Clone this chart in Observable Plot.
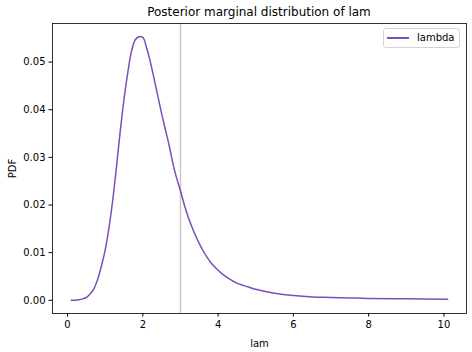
<!DOCTYPE html>
<html>
<head>
<meta charset="utf-8">
<script src="https://cdn.jsdelivr.net/npm/d3@7"></script>
<script src="https://cdn.jsdelivr.net/npm/@observablehq/plot@0.6"></script>
<style>
  html, body { margin: 0; padding: 0; background: white; }
  #wrap { position: relative; width: 472px; height: 352px; font-family: "DejaVu Sans", sans-serif; }
  #title { position: absolute; left: 52px; top: 0; width: 414px; height: 20px; padding-top: 4px; box-sizing: border-box; line-height: 16px; font-size: 12px; text-align: center; color: black; }
  #chart { position: absolute; left: 0; top: 20px; }
  #legend { position: absolute; left: 383px; top: 28px; width: 77px; height: 20px; box-sizing: border-box; border: 1px solid #d4d4d4; border-radius: 3px; background: rgba(255,255,255,0.8); font-size: 10px; }
  #legend .swatch { position: absolute; left: 3px; top: 8px; width: 22px; height: 1.5px; }
  #legend .lbl { position: absolute; left: 33px; top: 0; line-height: 18px; color: black; }
</style>
</head>
<body>
<div id="wrap">
  <div id="title">Posterior marginal distribution of lam</div>
  <div id="chart"></div>
  <div id="legend"><div class="swatch"></div><div class="lbl"></div></div>
</div>
<script>
// Data
const lamValues = [0.1,0.2,0.3,0.4,0.5,0.6,0.7,0.8,0.9,1.0,1.1,1.2,1.3,1.4,1.5,1.6,1.7,1.8,1.9,2.0,2.1,2.2,2.3,2.4,2.5,2.6,2.7,2.8,2.9,3.0,3.1,3.2,3.3,3.4,3.5,3.6,3.7,3.8,3.9,4.0,4.1,4.2,4.3,4.4,4.5,4.6,4.8,5.0,5.5,6.0,6.5,7.0,7.5,8.0,9.0,10.1];
const pdfValues = [0.0000,0.0000,0.0001,0.0003,0.0006,0.0013,0.0024,0.0044,0.0072,0.0106,0.0152,0.0210,0.0280,0.0355,0.0422,0.0478,0.0523,0.0547,0.0553,0.0552,0.0530,0.0500,0.0465,0.0428,0.0392,0.0358,0.0325,0.0287,0.0256,0.0230,0.0201,0.0176,0.0155,0.0136,0.0119,0.0104,0.0091,0.0080,0.0071,0.0063,0.0056,0.0050,0.0045,0.0040,0.0036,0.0033,0.0028,0.0023,0.0015,0.0010,0.0007,0.0006,0.0005,0.0004,0.0003,0.0002];
const trueValue = [3];
const seriesName = "lambda";
const xTicks = [0, 2, 4, 6, 8, 10];
const yTicks = [0, 0.01, 0.02, 0.03, 0.04, 0.05];

const lineColor = "#7a4fb8";
const data = lamValues.map((x, i) => ({x, v: pdfValues[i]}));

const chart = Plot.plot({
  width: 472,
  height: 332,
  marginTop: 3,
  marginBottom: 39,
  marginLeft: 52,
  marginRight: 6,
  x: {domain: [-0.4, 10.6]},
  y: {domain: [-0.00277, 0.0581]},
  style: {fontFamily: "DejaVu Sans", fontSize: "10px", color: "black", background: "white"},
  marks: [
    Plot.ruleX(trueValue, {stroke: "#c6c6c6", strokeWidth: 1.5}),
    Plot.line(data, {x: "x", y: "v", stroke: lineColor, strokeWidth: 1.5, curve: "catmull-rom"}),
    Plot.frame({stroke: "black", strokeWidth: 0.8}),
    Plot.axisX({ticks: xTicks, tickSize: 3.5, tickPadding: 3.5, label: "lam", labelAnchor: "center", labelOffset: 33, labelArrow: "none"}),
    Plot.axisY({ticks: yTicks, tickFormat: d3.format(".2f"), tickSize: 3.5, tickPadding: 3.5, label: "PDF", labelAnchor: "center", labelOffset: 44, labelArrow: "none"})
  ]
});
document.getElementById("chart").appendChild(chart);
document.querySelector("#legend .swatch").style.background = lineColor;
document.querySelector("#legend .lbl").textContent = seriesName;
</script>
</body>
</html>
